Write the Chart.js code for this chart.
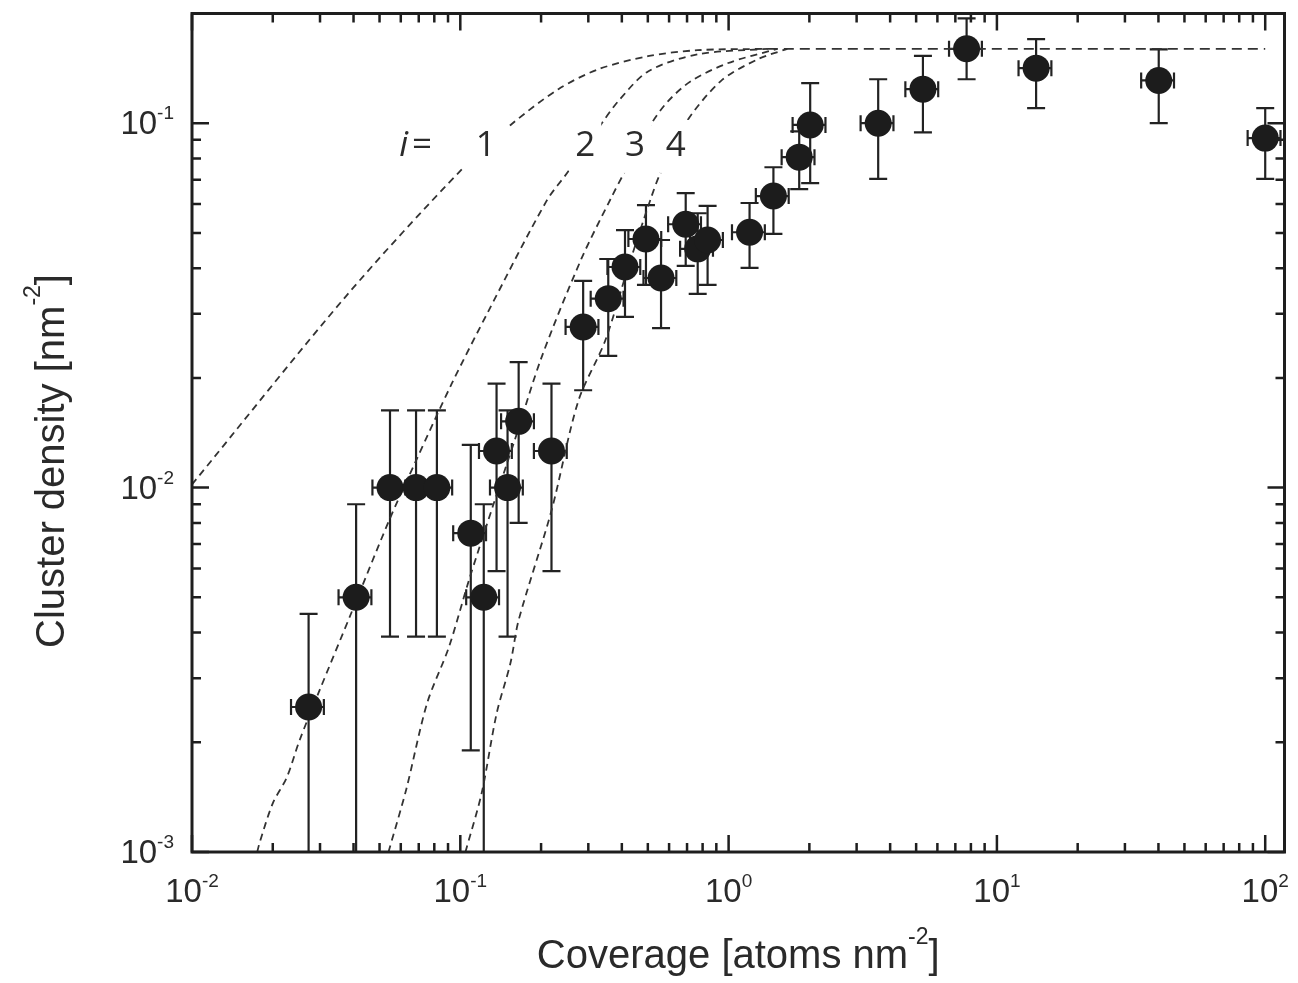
<!DOCTYPE html>
<html>
<head>
<meta charset="utf-8">
<script src="https://cdn.jsdelivr.net/npm/chart.js@4.4.1/dist/chart.umd.min.js"></script>
<style>
  html, body { margin: 0; padding: 0; background: #fff; overflow: hidden; }
  canvas { display: block; }
</style>
</head>
<body>
<canvas id="chart" width="1298" height="983"></canvas>
<script>
// measured points (coverage in atoms nm^-2, density in nm^-2)
const coverage    = [0.0272, 0.0409, 0.0547, 0.0684, 0.0818, 0.1094, 0.1223, 0.1365, 0.150, 0.165,
                     0.2187, 0.287, 0.356, 0.411, 0.492, 0.560, 0.692, 0.767, 0.835, 1.197,
                     1.469, 1.833, 2.014, 3.61, 5.30, 7.71, 14.0, 40.1, 100]
const density     = [0.0025, 0.005, 0.01, 0.01, 0.01, 0.0075, 0.005, 0.0126, 0.01, 0.0152,
                     0.0126, 0.0276, 0.033, 0.0403, 0.0481, 0.0376, 0.0528, 0.0452, 0.0478, 0.0502,
                     0.0631, 0.0807, 0.0989, 0.1, 0.124, 0.160, 0.1416, 0.131, 0.091]
const densityHi   = [0.0045, 0.009, 0.0163, 0.0163, 0.0163, 0.0131, 0.009, 0.0193, 0.0163, 0.0221,
                     0.0193, 0.0369, 0.0424, 0.0509, 0.0596, 0.0478, 0.0643, 0.0566, 0.0593, 0.0604,
                     0.0757, 0.095, 0.1288, 0.132, 0.153, 0.194, 0.170, 0.1595, 0.110]
const densityLo   = [0.0001, 0.0001, 0.0039, 0.0039, 0.0039, 0.0019, 0.0001, 0.0059, 0.0039, 0.0080,
                     0.0059, 0.0185, 0.023, 0.0294, 0.036, 0.0274, 0.0406, 0.034, 0.036, 0.0401,
                     0.0497, 0.0659, 0.0685, 0.0703, 0.0944, 0.132, 0.110, 0.100, 0.0703]
const coverageErr = [0.14, 0.14, 0.14, 0.14, 0.14, 0.14, 0.14, 0.14, 0.14, 0.14,
                     0.14, 0.14, 0.14, 0.14, 0.14, 0.14, 0.14, 0.14, 0.14, 0.14,
                     0.14, 0.14, 0.14, 0.14, 0.14, 0.14, 0.14, 0.14, 0.14]

// dashed model curves, critical nucleus size i = 1..4
const fit1X = [0.01, 0.0376, 0.1014, 0.154, 0.232, 0.327, 0.50, 0.767, 1.40]
const fit1Y = [0.0102, 0.0336, 0.0748, 0.0989, 0.124, 0.1406, 0.1527, 0.1586, 0.160]
const fit2X = [0.0175, 0.01786, 0.020, 0.02254, 0.0252, 0.0299, 0.0392, 0.0543, 0.0684, 0.0929,
               0.1276, 0.2094, 0.2528, 0.335, 0.3875, 0.501, 0.768, 1.40]
const fit2Y = [0.001, 0.00106, 0.00136, 0.0016, 0.00203, 0.00278, 0.00452, 0.00813, 0.01186, 0.01928,
               0.0306, 0.0611, 0.0738, 0.0994, 0.1148, 0.1387, 0.1546, 0.160]
const fit3X = [0.0540, 0.0628, 0.0752, 0.0907, 0.1076, 0.1332, 0.1606, 0.2005, 0.2825, 0.365,
               0.411, 0.514, 0.594, 0.723, 0.99, 1.52]
const fit3Y = [0.001, 0.00148, 0.00256, 0.00365, 0.00556, 0.00904, 0.0137, 0.0227, 0.0424, 0.0624,
               0.0738, 0.0994, 0.1148, 0.1303, 0.146, 0.160]
const fit4X = [0.1045, 0.1201, 0.1366, 0.1538, 0.165, 0.2187, 0.2754, 0.3467, 0.4217, 0.514,
               0.555, 0.687, 0.933, 1.28, 1.655]
const fit4Y = [0.001, 0.00145, 0.0024, 0.0033, 0.00433, 0.00865, 0.0173, 0.0253, 0.0401, 0.0624,
               0.0725, 0.0994, 0.1303, 0.1496, 0.160]
const plateauX = [1.40, 100]
const plateauY = [0.160, 0.160]

// axes
const xDecades = [0.01, 0.1, 1, 10, 100]
const xDecadeLabels = [['10', '-2'], ['10', '-1'], ['10', '0'], ['10', '1'], ['10', '2']]
const yDecades = [0.001, 0.01, 0.1]
const yDecadeLabels = [['10', '-3'], ['10', '-2'], ['10', '-1']]
const xTitle = ['Coverage [atoms nm', '-2', ']']
const yTitle = ['Cluster density [nm', '-2', ']']

// curve labels
const curveLabels = ['1', '2', '3', '4']
const curveLabelX = [0.1245, 0.2923, 0.448, 0.635]
const curveLabelY = 0.0813
const curveLabelPrefixX = 0.0655

const pts = (xs, ys) => xs.map((v, i) => ({ x: v, y: ys[i] }))
const SANS = '"Liberation Sans", Arial, sans-serif'
const INK = '#1e1e1e'

function supText(ctx, parts, x, y, align, size, supSize, rise) {
  const [base, sup, tail] = parts
  ctx.font = size + 'px ' + SANS
  const wb = ctx.measureText(base).width
  const wt = tail ? ctx.measureText(tail).width : 0
  ctx.font = supSize + 'px ' + SANS
  const ws = ctx.measureText(sup).width
  const w = wb + ws + wt
  let sx = x
  if (align === 'center') sx = x - w / 2
  if (align === 'right') sx = x - w
  ctx.textAlign = 'left'
  ctx.textBaseline = 'alphabetic'
  ctx.font = size + 'px ' + SANS
  ctx.fillText(base, sx, y)
  ctx.font = supSize + 'px ' + SANS
  ctx.fillText(sup, sx + wb, y - rise)
  if (tail) {
    ctx.font = size + 'px ' + SANS
    ctx.fillText(tail, sx + wb + ws, y)
  }
}

const errorBars = {
  id: 'errorBars',
  beforeDatasetsDraw(chart) {
    const { ctx, chartArea: a, scales: { x, y } } = chart
    ctx.save()
    ctx.beginPath()
    ctx.rect(a.left, a.top, a.width, a.height)
    ctx.clip()
    ctx.strokeStyle = '#222'
    ctx.lineWidth = 2.2
    coverage.forEach((c, i) => {
      const px = x.getPixelForValue(c), py = y.getPixelForValue(density[i])
      const top = y.getPixelForValue(densityHi[i]), bot = y.getPixelForValue(densityLo[i])
      const l = x.getPixelForValue(c * (1 - coverageErr[i])), r = x.getPixelForValue(c * (1 + coverageErr[i]))
      ctx.beginPath()
      ctx.moveTo(px, top); ctx.lineTo(px, bot)
      ctx.moveTo(px - 9, top); ctx.lineTo(px + 9, top)
      ctx.moveTo(px - 9, bot); ctx.lineTo(px + 9, bot)
      ctx.moveTo(l, py); ctx.lineTo(r, py)
      ctx.moveTo(l, py - 8); ctx.lineTo(l, py + 8)
      ctx.moveTo(r, py - 8); ctx.lineTo(r, py + 8)
      ctx.stroke()
    })
    ctx.restore()
  }
}

const curveTags = {
  id: 'curveTags',
  afterDatasetsDraw(chart) {
    const { ctx, scales: { x, y } } = chart
    const by = y.getPixelForValue(curveLabelY)
    ctx.save()
    ctx.fillStyle = '#fff'
    curveLabels.forEach((t, i) => {
      const cx = x.getPixelForValue(curveLabelX[i])
      const hw = t === '1' ? 22 : 16
      ctx.fillRect(cx - hw, by - 36, hw * 2, 53)
    })
    ctx.fillStyle = '#2b2b2b'
    ctx.textBaseline = 'alphabetic'
    ctx.font = '35px "Open Sans", sans-serif'
    ctx.textAlign = 'center'
    curveLabels.forEach((t, i) => ctx.fillText(t, x.getPixelForValue(curveLabelX[i]), by))
    const ax = x.getPixelForValue(curveLabelPrefixX)
    ctx.font = 'italic 35px "Open Sans", sans-serif'
    ctx.textAlign = 'right'
    ctx.fillText('i', ax - 3, by)
    ctx.font = '35px "Open Sans", sans-serif'
    ctx.textAlign = 'left'
    ctx.fillText('=', ax + 1, by)
    ctx.restore()
  }
}

const frame = {
  id: 'frame',
  afterDraw(chart) {
    const { ctx, chartArea: a, scales: { x, y } } = chart
    ctx.save()
    ctx.strokeStyle = INK
    ctx.lineWidth = 2.5
    ctx.beginPath()
    xDecades.forEach(d => {
      for (let k = 1; k < 10; k++) {
        const v = d * k
        if (v > x.max) break
        const p = x.getPixelForValue(v), len = k === 1 ? 17 : 9
        ctx.moveTo(p, a.bottom); ctx.lineTo(p, a.bottom - len)
        ctx.moveTo(p, a.top); ctx.lineTo(p, a.top + len)
      }
    })
    yDecades.forEach(d => {
      for (let k = 1; k < 10; k++) {
        const v = d * k
        if (v >= y.max) break
        const p = y.getPixelForValue(v), len = k === 1 ? 17 : 9
        ctx.moveTo(a.left, p); ctx.lineTo(a.left + len, p)
        ctx.moveTo(a.right, p); ctx.lineTo(a.right - len, p)
      }
    })
    ctx.stroke()
    ctx.lineWidth = 3
    ctx.strokeRect(a.left, a.top, a.width, a.height)

    ctx.fillStyle = '#2a2a2a'
    xDecades.forEach((d, i) => supText(ctx, xDecadeLabels[i], x.getPixelForValue(d), 902, 'center', 33, 19, 15))
    yDecades.forEach((d, i) => supText(ctx, yDecadeLabels[i], 174, y.getPixelForValue(d) + 11, 'right', 33, 19, 15))

    supText(ctx, xTitle, (a.left + a.right) / 2, 968, 'center', 40, 23, 24)
    ctx.translate(64, 461)
    ctx.rotate(-Math.PI / 2)
    supText(ctx, yTitle, 0, 0, 'center', 40, 23, 24)
    ctx.restore()
  }
}

const fitStyle = { showLine: true, pointRadius: 0, borderColor: '#333', borderWidth: 1.8, borderDash: [7, 5], tension: 0.3, fill: false }

new Chart(document.getElementById('chart'), {
  type: 'scatter',
  data: {
    datasets: [
      { label: 'data', data: pts(coverage, density), pointRadius: 13.5, pointHoverRadius: 13.5,
        backgroundColor: '#1c1c1c', borderWidth: 0 },
      { label: 'i = 1', data: pts(fit1X, fit1Y), ...fitStyle },
      { label: 'i = 2', data: pts(fit2X, fit2Y), ...fitStyle },
      { label: 'i = 3', data: pts(fit3X, fit3Y), ...fitStyle },
      { label: 'i = 4', data: pts(fit4X, fit4Y), ...fitStyle },
      { label: 'saturation', data: pts(plateauX, plateauY), ...fitStyle, borderDash: [10, 6], tension: 0 }
    ]
  },
  options: {
    responsive: false,
    animation: false,
    devicePixelRatio: 1,
    layout: { padding: { top: 12, right: 6, left: 0, bottom: 0 } },
    plugins: { legend: { display: false }, tooltip: { enabled: false } },
    scales: {
      x: {
        type: 'logarithmic', min: 0.01, max: 118,
        grid: { display: false }, border: { display: false },
        ticks: { display: false },
        afterFit: s => { s.height = 131 }
      },
      y: {
        type: 'logarithmic', min: 0.001, max: 0.2,
        grid: { display: false }, border: { display: false },
        ticks: { display: false },
        afterFit: s => { s.width = 192 }
      }
    }
  },
  plugins: [errorBars, curveTags, frame]
})
</script>
</body>
</html>
